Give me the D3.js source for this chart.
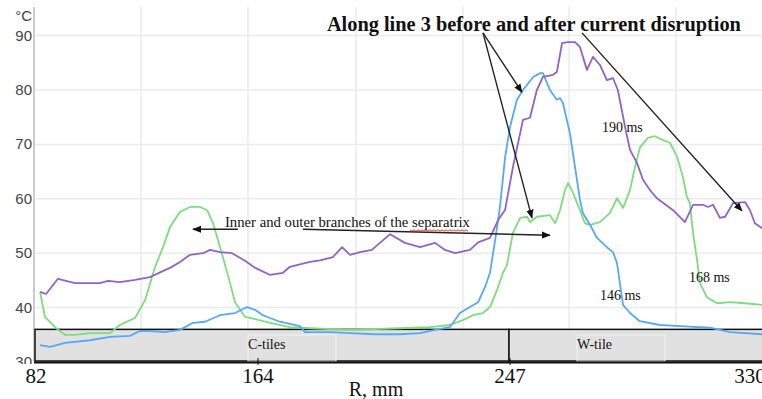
<!DOCTYPE html>
<html>
<head>
<meta charset="utf-8">
<script src="https://cdn.jsdelivr.net/npm/d3@7"></script>
<style>
  body { margin: 0; background: #fff; }
  svg { display: block; }
</style>
</head>
<body>
<div id="chart"></div>
<script>
// axis ticks
const tickR = [82, 164, 247, 330];
const tickT = [30, 40, 50, 60, 70, 80, 90];
// vertical grid of the underlying recorder chart (mm)
const gridR = [120.8, 160.3, 196.3, 231.5, 267.4, 304.4];

// 190 ms (purple)
const r190 = [83.5, 85.7, 90.1, 91.6, 96.4, 105.6, 108.6, 113.0, 118.6, 124.1, 129.6, 131.5, 135.2, 138.9, 143.7, 146.3, 150.0, 154.4, 159.2, 163.0,
  168.0, 172.2, 174.5, 181.1, 184.4, 188.7, 191.7, 194.3, 197.6, 201.5, 207.5, 212.4, 217.4, 222.3, 225.6, 228.9, 233.8, 236.5, 240.4, 243.0, 245.4,
  248.0, 251.5, 253.9, 256.3, 258.4, 261.9, 263.2, 265.0, 267.0, 269.5, 271.2, 273.6, 275.7, 278.1, 280.5, 282.6, 284.3, 286.8, 288.5, 290.9, 293.0,
  295.4, 297.8, 303.4, 307.5, 310.3, 313.7, 315.5, 317.2, 319.6, 321.4, 324.1, 328.3, 330.0, 331.7, 334.2];
const t190 = [42.9, 42.5, 45.3, 45.1, 44.5, 44.5, 44.9, 44.7, 45.1, 45.6, 46.9, 47.3, 48.4, 49.7, 50.0, 50.6, 50.2, 50.0, 48.6, 47.3,
  46.0, 46.4, 47.5, 48.4, 48.7, 49.3, 51.1, 49.7, 50.2, 50.6, 53.5, 51.9, 51.1, 51.9, 50.6, 50.0, 50.6, 52.0, 52.8, 56.0, 58.0,
  65.8, 74.5, 74.9, 80.0, 82.4, 82.8, 83.3, 88.6, 88.8, 88.8, 87.9, 83.7, 86.1, 84.6, 81.8, 82.2, 80.0, 73.2, 69.0, 66.6, 63.5,
  61.6, 60.1, 57.9, 55.7, 58.9, 58.9, 58.5, 58.9, 56.5, 56.7, 59.2, 59.4, 57.9, 55.5, 54.6];

// 146 ms (blue)
const r146 = [83.5, 87.2, 92.7, 101.9, 109.3, 116.7, 120.4, 124.1, 129.6, 135.2, 140.0, 144.4, 149.9, 155.5, 159.9, 162.9,
  165.6, 171.2, 177.8, 179.5, 187.7, 194.3, 202.5, 210.8, 217.4, 222.3, 227.2, 230.5, 233.8, 236.5, 238.8, 240.4, 242.1, 243.7, 245.4,
  247.0, 249.4, 251.5, 255.0, 257.4, 258.4, 260.8, 263.2, 264.3, 265.3, 267.7, 269.5, 271.2, 272.2, 274.7, 277.1, 280.5, 282.6, 284.0,
  285.0, 286.1, 288.5, 291.9, 298.9, 305.8, 316.2, 323.1, 334.2];
const t146 = [33.1, 32.8, 33.5, 34.0, 34.6, 34.8, 35.7, 35.7, 35.5, 35.9, 37.2, 37.4, 38.6, 39.0, 40.1, 39.6,
  38.6, 37.4, 36.6, 35.5, 35.5, 35.3, 35.1, 35.1, 35.3, 35.9, 36.4, 39.0, 40.1, 41.0, 43.8, 46.4, 52.4, 58.5, 67.7,
  73.2, 78.2, 80.0, 82.4, 83.1, 83.1, 80.0, 78.2, 78.5, 77.6, 72.1, 65.8, 59.8, 57.4, 55.2, 52.8, 51.1, 50.2, 48.2,
  44.5, 40.5, 39.0, 37.5, 36.8, 36.6, 36.3, 35.5, 35.1];

// 168 ms (green)
const r168 = [83.5, 85.3, 89.0, 92.7, 96.4, 101.9, 109.3, 113.0, 118.6, 122.3, 126.0, 128.9, 131.5, 135.2, 138.9, 142.6, 145.2, 147.4,
  150.0, 153.7, 155.5, 159.2, 161.0, 168.0, 174.5, 181.1, 194.3, 210.8, 220.7, 227.2, 231.5, 234.8, 238.1, 240.4, 242.7, 244.7, 246.0,
  248.0, 250.5, 252.9, 253.9, 256.3, 260.8, 262.6, 264.3, 266.0, 267.1, 268.8, 271.2, 272.9, 274.7, 278.1, 281.6, 284.0, 286.1, 288.5,
  290.2, 292.0, 294.7, 297.1, 299.9, 302.3, 304.8, 306.8, 308.2, 309.2, 310.3, 311.7, 312.7, 315.1, 318.6, 323.1, 328.3, 334.2];
const t168 = [42.9, 38.3, 36.4, 35.0, 35.0, 35.3, 35.3, 36.8, 38.1, 41.4, 47.5, 51.1, 54.8, 57.6, 58.5, 58.5, 57.9, 55.5,
  51.1, 44.5, 41.0, 38.3, 38.1, 37.2, 36.4, 36.2, 35.9, 36.2, 36.4, 36.8, 37.7, 38.6, 39.0, 40.1, 43.2, 46.4, 47.8,
  53.7, 56.5, 56.7, 55.7, 56.7, 57.0, 55.5, 57.9, 61.6, 62.9, 61.1, 57.9, 55.5, 55.2, 55.7, 57.4, 60.1, 58.3, 61.6,
  65.8, 69.5, 71.2, 71.5, 70.8, 70.3, 67.7, 64.0, 60.3, 59.2, 53.7, 48.7, 44.5, 41.9, 40.8, 41.0, 40.8, 40.5];

// tiles under the profile
const tileNames = ["C-tiles", "W-tile"];
const tileFrom = [82, 247];
const tileTo = [247, 336];

const width = 762, height = 399;
const serif = "'Liberation Serif', 'Times New Roman', serif";
const sans = "'Liberation Sans', Arial, sans-serif";

const svg = d3.select("#chart").append("svg")
  .attr("width", width)
  .attr("height", height);

// the mm labels were set by hand on the picture, so the scale is piecewise
const x = d3.scaleLinear().domain(tickR).range([36, 258, 510, 750]);
const y = d3.scaleLinear().domain([30, 90]).range([362, 35.6]);

// grid
svg.append("g").selectAll("line.h")
  .data(tickT.slice(1))
  .enter().append("line")
  .attr("x1", 35).attr("x2", width)
  .attr("y1", d => y(d)).attr("y2", d => y(d))
  .attr("stroke", "#ebebeb").attr("stroke-width", 1.5);

svg.append("g").selectAll("line.v")
  .data(gridR)
  .enter().append("line")
  .attr("x1", d => x(d)).attr("x2", d => x(d))
  .attr("y1", 7).attr("y2", 362)
  .attr("stroke", "#ebebeb").attr("stroke-width", 1.5);

// y axis
svg.append("line")
  .attr("x1", 34).attr("x2", 34).attr("y1", 7).attr("y2", 362)
  .attr("stroke", "#cccccc").attr("stroke-width", 2);

svg.append("g").selectAll("text")
  .data(tickT)
  .enter().append("text")
  .attr("x", 32).attr("y", d => y(d) + 5)
  .attr("text-anchor", "end")
  .attr("font-family", sans).attr("font-size", 15)
  .attr("fill", "#444")
  .text(d => d);

svg.append("text")
  .attr("x", 32).attr("y", 21)
  .attr("text-anchor", "end")
  .attr("font-family", sans).attr("font-size", 15)
  .attr("fill", "#444")
  .text("°C");

// tiles
const tiles = tileNames.map((n, i) => ({ name: n, from: tileFrom[i], to: tileTo[i] }));
svg.append("g").selectAll("rect")
  .data(tiles)
  .enter().append("rect")
  .attr("x", d => x(d.from) - 1)
  .attr("y", y(36))
  .attr("width", d => x(d.to) - x(d.from))
  .attr("height", y(30) - y(36) - 1)
  .attr("fill", "#e1e1e1")
  .attr("stroke", "#111").attr("stroke-width", 1.5);

// faint label boxes
svg.append("g").selectAll("rect")
  .data(tiles)
  .enter().append("rect")
  .attr("x", d => x(d.from) + (d.name === "C-tiles" ? 212 : 67))
  .attr("y", 335)
  .attr("width", 88).attr("height", 26)
  .attr("fill", "none")
  .attr("stroke", "#f2f2f2").attr("stroke-width", 1);

svg.append("g").selectAll("text")
  .data(tiles)
  .enter().append("text")
  .attr("x", d => x(d.from) + (d.name === "C-tiles" ? 212 : 67))
  .attr("y", 349)
  .attr("font-family", serif).attr("font-size", 14)
  .attr("fill", "#111")
  .text(d => d.name);

// profiles
const line = d3.line()
  .x(d => x(d[0]))
  .y(d => y(d[1]));

const series = [
  { r: r168, t: t168, color: "#7ddc7d" },
  { r: r146, t: t146, color: "#55a9f5" },
  { r: r190, t: t190, color: "#9363c4" }
];

svg.append("g").selectAll("path")
  .data(series)
  .enter().append("path")
  .attr("d", d => line(d.r.map((v, i) => [v, d.t[i]])))
  .attr("fill", "none")
  .attr("stroke", d => d.color)
  .attr("stroke-width", 1.8)
  .attr("stroke-linejoin", "round");

// white strip under the plot (hides the lower half of "30")
svg.append("rect")
  .attr("x", 0).attr("y", 364).attr("width", width).attr("height", height - 364)
  .attr("fill", "#fff");

// x axis
svg.append("line")
  .attr("x1", 34).attr("x2", width).attr("y1", 362.5).attr("y2", 362.5)
  .attr("stroke", "#111").attr("stroke-width", 2);

svg.append("g").selectAll("line")
  .data(tickR.slice(1, 3))
  .enter().append("line")
  .attr("x1", d => x(d)).attr("x2", d => x(d))
  .attr("y1", 358).attr("y2", 365)
  .attr("stroke", "#111").attr("stroke-width", 1);

svg.append("g").selectAll("text")
  .data(tickR)
  .enter().append("text")
  .attr("x", d => x(d))
  .attr("y", 383)
  .attr("text-anchor", "middle")
  .attr("font-family", serif).attr("font-size", 21)
  .attr("fill", "#111")
  .text(d => d);

svg.append("text")
  .attr("x", 376).attr("y", 396)
  .attr("text-anchor", "middle")
  .attr("font-family", serif).attr("font-size", 20)
  .attr("fill", "#111")
  .text("R, mm");

// annotations
svg.append("defs").append("marker")
  .attr("id", "arr")
  .attr("viewBox", "0 0 10 10")
  .attr("refX", 9).attr("refY", 5)
  .attr("markerWidth", 9).attr("markerHeight", 9)
  .attr("markerUnits", "userSpaceOnUse")
  .attr("orient", "auto")
  .append("path")
  .attr("d", "M0,1 L10,5 L0,9 Z")
  .attr("fill", "#111");

const arrows = [
  [238.1, 90.5, 251.1, 79.6],
  [238.1, 90.5, 254.6, 56.5],
  [271.9, 90.5, 327.2, 57.8],
  [178.8, 54.4, 260.8, 53.3],
  [156.6, 54.4, 140.0, 54.4]
];
svg.append("g").selectAll("line")
  .data(arrows)
  .enter().append("line")
  .attr("x1", d => x(d[0])).attr("y1", d => y(d[1]))
  .attr("x2", d => x(d[2])).attr("y2", d => y(d[3]))
  .attr("stroke", "#222").attr("stroke-width", 1.4)
  .attr("marker-end", "url(#arr)");

svg.append("text")
  .attr("x", x(186.7)).attr("y", 31)
  .attr("font-family", serif).attr("font-size", 20).attr("font-weight", "bold")
  .attr("textLength", 414).attr("lengthAdjust", "spacingAndGlyphs")
  .attr("fill", "#111")
  .text("Along line 3 before and after current disruption");

svg.append("text")
  .attr("x", x(151.8)).attr("y", y(54.8))
  .attr("font-family", serif).attr("font-size", 15)
  .attr("textLength", 245).attr("lengthAdjust", "spacingAndGlyphs")
  .attr("fill", "#111")
  .text("Inner and outer branches of the separatrix");

// spell-check squiggle under "separatrix"
const sq = d3.range(0, 30).map(i => [410 + i * 2, 230 + (i % 2 ? 1.2 : -0.2)]);
svg.append("path")
  .attr("d", d3.line()(sq))
  .attr("fill", "none").attr("stroke", "#e02020").attr("stroke-width", 0.9);

const msLabels = [
  { text: "190 ms", r: 278.8, t: 72.3 },
  { text: "146 ms", r: 278.1, t: 41.4 },
  { text: "168 ms", r: 308.9, t: 44.7 }
];
svg.append("g").selectAll("text")
  .data(msLabels)
  .enter().append("text")
  .attr("x", d => x(d.r)).attr("y", d => y(d.t))
  .attr("font-family", serif).attr("font-size", 14)
  .attr("fill", "#111")
  .text(d => d.text);
</script>
</body>
</html>
